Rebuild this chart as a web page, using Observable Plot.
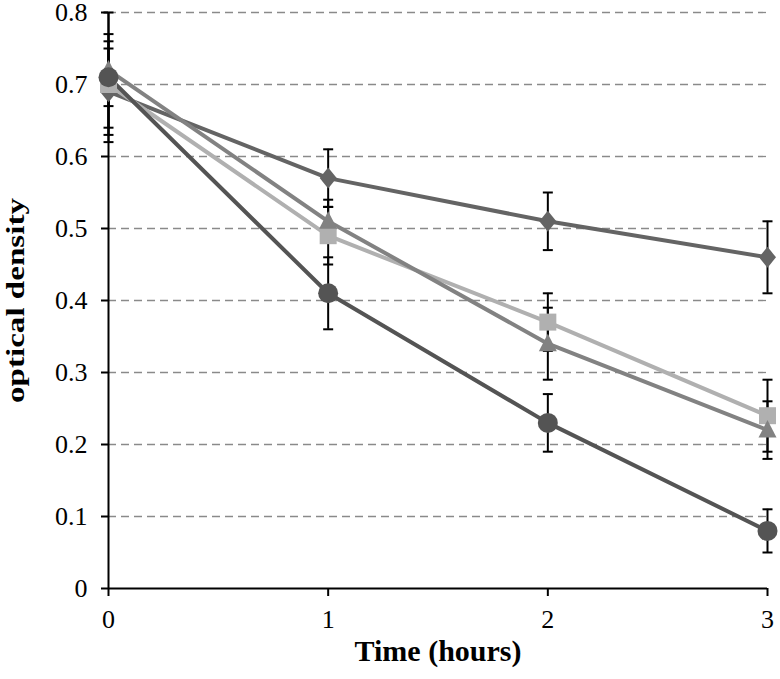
<!DOCTYPE html>
<html>
<head>
<meta charset="utf-8">
<script src="https://cdn.jsdelivr.net/npm/d3@7"></script>
<script src="https://cdn.jsdelivr.net/npm/@observablehq/plot@0.6"></script>
<style>
  html, body { margin: 0; padding: 0; background: #fff; }
  #chart svg { display: block; }
  #chart svg g[aria-label="y-axis tick label"], #chart svg g[aria-label="x-axis tick label"] { font-size: 26px !important; }
  #chart svg g.ytitle { font-size: 25px !important; font-weight: bold; }
  #chart svg g.xtitle { font-size: 30px !important; font-weight: bold; }
</style>
</head>
<body>
<div id="chart"></div>
<script>
// ---- data ----
const hours = [0, 1, 2, 3];
const seriesNames = ["diamond", "square", "triangle", "circle"];
const diamondValues  = [0.69, 0.57, 0.51, 0.46];
const diamondErrors  = [0.06, 0.04, 0.04, 0.05];
const squareValues   = [0.70, 0.49, 0.37, 0.24];
const squareErrors   = [0.06, 0.04, 0.04, 0.05];
const triangleValues = [0.72, 0.51, 0.34, 0.22];
const triangleErrors = [0.05, 0.03, 0.05, 0.04];
const circleValues   = [0.71, 0.41, 0.23, 0.08];
const circleErrors   = [0.09, 0.05, 0.04, 0.03];
const yTicks = [0, 0.1, 0.2, 0.3, 0.4, 0.5, 0.6, 0.7, 0.8];
const xTicks = [0, 1, 2, 3];
const xLabel = "Time (hours)";
const yLabel = "optical density";

const seriesColors = {diamond: "#646464", square: "#b0b0b0", triangle: "#828282", circle: "#545454"};

// custom marker shapes
const symbols = {
  diamond: {draw(c) { c.moveTo(0, -10.5); c.lineTo(8.5, 0); c.lineTo(0, 10.5); c.lineTo(-8.5, 0); c.closePath(); }},
  square: {draw(c) { c.moveTo(-8.5, -8.5); c.lineTo(8.5, -8.5); c.lineTo(8.5, 8.5); c.lineTo(-8.5, 8.5); c.closePath(); }},
  triangle: {draw(c) { c.moveTo(0, -10); c.lineTo(9, 7.5); c.lineTo(-9, 7.5); c.closePath(); }},
  circle: {draw(c) { c.moveTo(10, 0); c.arc(0, 0, 10, 0, 2 * Math.PI); c.closePath(); }}
};
const capSymbol = {draw(c) { c.moveTo(-5, 0); c.lineTo(5, 0); }};

const valuesBy = {diamond: diamondValues, square: squareValues, triangle: triangleValues, circle: circleValues};
const errorsBy = {diamond: diamondErrors, square: squareErrors, triangle: triangleErrors, circle: circleErrors};

const rows = seriesNames.flatMap(s => hours.map((h, i) => ({
  series: s, t: h, v: valuesBy[s][i], lo: valuesBy[s][i] - errorsBy[s][i], hi: valuesBy[s][i] + errorsBy[s][i]
})));

const font = "'Liberation Serif', 'Times New Roman', serif";

const chart = Plot.plot({
  width: 780,
  height: 679,
  marginLeft: 108,
  marginRight: 13,
  marginTop: 12,
  marginBottom: 91,
  style: {fontFamily: font, fontSize: "26px", color: "#000", background: "#fff"},
  x: {domain: [0, 3]},
  y: {domain: [0, 0.8]},
  marks: [
    Plot.gridY(yTicks.filter(d => d > 0), {stroke: "#8a8a8a", strokeOpacity: 1, strokeWidth: 1.3, strokeDasharray: "8,5"}),
    Plot.axisY(yTicks, {tickSize: 7, tickPadding: 14, stroke: "#000", strokeWidth: 2,
      tickFormat: d => d === 0 ? "0" : d3.format(".1f")(d), label: null, fontSize: 26}),
    Plot.axisX(xTicks, {tickSize: 8, tickPadding: 13, stroke: "#000", strokeWidth: 2,
      tickFormat: d => String(d), label: null, fontSize: 26}),
    // error bars
    Plot.ruleX(rows, {x: "t", y1: "lo", y2: "hi", stroke: "#000", strokeWidth: 2}),
    Plot.dot(rows, {x: "t", y: "lo", symbol: () => capSymbol, r: 5, stroke: "#000", strokeWidth: 2, fill: "none"}),
    Plot.dot(rows, {x: "t", y: "hi", symbol: () => capSymbol, r: 5, stroke: "#000", strokeWidth: 2, fill: "none"}),
    // axis lines
    Plot.ruleX([0], {stroke: "#000", strokeWidth: 2}),
    Plot.ruleY([0], {stroke: "#000", strokeWidth: 2}),
    // series lines
    ...seriesNames.map(s => Plot.line(rows.filter(d => d.series === s), {x: "t", y: "v", stroke: seriesColors[s], strokeWidth: 4})),
    // markers
    ...seriesNames.map(s => Plot.dot(rows.filter(d => d.series === s), {x: "t", y: "v", symbol: () => symbols[s], r: 9, fill: seriesColors[s], stroke: "none"})),
    // axis titles
    Plot.text([yLabel], {frameAnchor: "left", textAnchor: "middle", rotate: -90, dx: -93, text: d => d, fontSize: 25, fontWeight: "bold", fill: "#000", className: "ytitle"}),
    Plot.text([xLabel], {frameAnchor: "bottom", dy: 72, text: d => d, fontSize: 30, fontWeight: "bold", fill: "#000", className: "xtitle"})
  ]
});
// the reference's rotated title is stretched along its length
const yt = chart.querySelector("g.ytitle text");
if (yt) { yt.setAttribute("textLength", "205"); yt.setAttribute("lengthAdjust", "spacingAndGlyphs"); }
document.getElementById("chart").append(chart);
</script>
</body>
</html>
